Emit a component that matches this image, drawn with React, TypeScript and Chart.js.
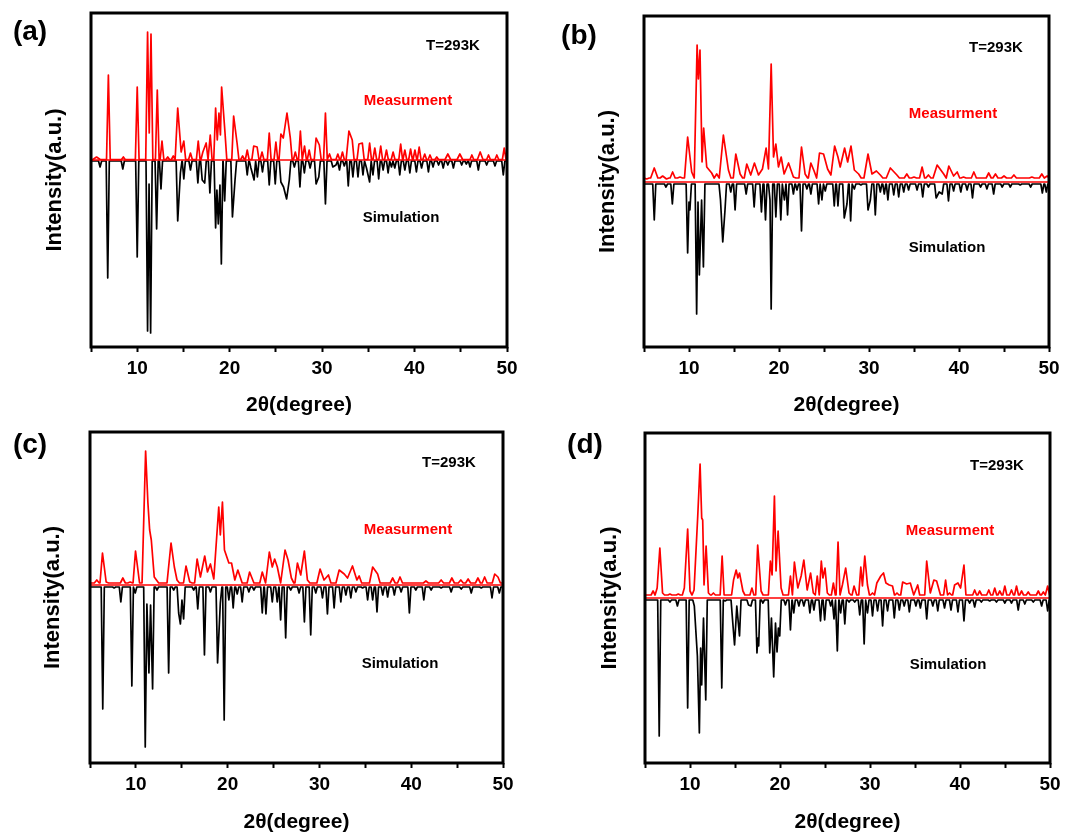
import { useEffect, useRef } from 'react';
import { Chart, registerables } from 'chart.js';
Chart.register(...registerables);

type P = [number, number] | [number, number, number];

const xTickLabels = [10, 20, 30, 40, 50];
const tempLabel = 'T=293K';
const measLabel = 'Measurment';
const simLabel = 'Simulation';
const xTitle = '2θ(degree)';
const yTitle = 'Intensity(a.u.)';
const panelLabels = ['(a)', '(b)', '(c)', '(d)'];

// peak tops / valleys: [2θ, intensity (a.u.), optional half-width]
const measA: P[] = [[5.6, 3, 0.4], [6.88, 85], [8.5, 3], [10.0, 73], [11.12, 128], [11.3, 27], [11.49, 126], [12.17, 70], [12.68, 19], [13.3, 3], [13.9, 4], [14.38, 52], [14.75, 8], [15.04, 19], [15.76, 7], [16.6, 19], [17.1, 8], [17.46, 17], [17.9, 25], [18.48, 52], [18.66, 20], [18.84, 47], [19.0, 25], [19.13, 73], [19.49, 28], [20.43, 44], [20.8, 17], [21.4, 4], [21.9, 10], [22.6, 14], [22.97, 13], [23.5, 8], [24.28, 27], [25.0, 18], [25.54, 26], [25.8, 22], [26.2, 47], [26.56, 22], [27.1, 8], [27.65, 29], [28.1, 14], [28.6, 10], [29.35, 22], [29.7, 15], [30.36, 47], [30.8, 6], [31.7, 6], [32.2, 8], [32.9, 29, 0.3], [33.26, 20], [33.98, 16], [34.35, 17], [35.14, 17], [35.7, 12], [36.34, 14], [36.96, 10], [37.68, 8], [38.5, 16], [38.95, 10], [39.57, 11], [40.04, 10], [40.5, 13], [41.1, 6], [41.67, 5], [42.4, 3], [43.6, 6, 0.3], [44.9, 6, 0.3], [46.2, 5], [47.1, 8, 0.3], [48.0, 5], [48.9, 5], [49.7, 12]];
const simA: P[] = [[5.98, 7], [6.81, 118], [8.44, 9], [10.0, 97], [11.12, 171], [11.28, 24], [11.45, 173], [12.1, 69], [12.57, 29], [14.38, 61], [14.67, 13], [15.04, 19], [15.76, 10], [16.56, 23], [17.03, 20], [17.3, 23], [17.86, 33], [18.48, 68], [18.62, 30], [18.77, 64], [18.95, 25], [19.1, 104], [19.46, 41], [20.3, 57], [20.58, 20], [21.9, 15], [22.3, 8], [22.64, 20], [23.0, 17], [23.55, 12], [24.28, 25], [24.93, 24], [25.54, 22], [25.83, 27], [26.16, 39], [26.45, 20], [27.0, 7], [27.6, 27], [28.08, 13], [28.7, 8], [29.35, 24], [29.64, 17], [30.36, 44], [31.16, 7], [31.5, 5], [31.88, 10], [32.4, 6], [32.83, 26], [33.33, 17], [33.88, 17], [34.42, 15], [34.8, 8], [35.14, 22], [35.5, 15], [36.12, 19], [36.6, 10], [37.14, 13], [37.5, 7], [37.86, 8], [38.4, 15], [38.95, 10], [39.49, 13], [40.2, 12], [40.76, 8], [41.5, 12], [42.0, 7], [42.6, 5], [43.1, 8], [43.6, 5], [44.2, 8], [45.1, 5], [45.6, 4], [46.0, 7], [46.9, 10], [47.8, 5], [48.7, 6], [49.6, 15]];

const measB: P[] = [[5.3, 3], [6.14, 14, 0.4], [7.07, 6], [7.5, 3], [8.18, 10], [9.0, 5], [9.85, 45, 0.35], [10.3, 10], [10.9, 137], [11.04, 103], [11.22, 132], [11.45, 20], [11.63, 54], [11.97, 15], [12.52, 9], [13.08, 8], [13.82, 47, 0.4], [14.38, 12], [15.2, 28], [15.68, 8], [16.42, 18], [16.86, 7], [17.27, 19], [17.72, 7], [18.16, 13], [18.57, 34], [18.83, 13], [19.13, 118], [19.39, 25], [19.65, 38], [19.94, 15], [20.24, 25], [20.57, 8], [21.06, 19], [21.6, 5], [22.5, 35], [22.9, 8], [23.54, 19], [23.9, 11], [24.5, 29], [24.95, 28], [25.4, 13], [25.77, 7], [26.18, 36], [26.55, 25], [26.8, 15], [27.29, 34], [27.63, 20], [28.0, 36], [28.37, 12], [28.85, 8], [29.89, 28, 0.45], [30.33, 8], [30.82, 11], [31.26, 7], [32.37, 14, 0.45], [33.1, 7], [34.2, 8], [35.0, 5], [35.9, 15], [36.6, 7], [37.57, 17, 0.45], [38.3, 8], [38.87, 16], [39.4, 6], [39.8, 10], [40.5, 5], [41.65, 10], [42.4, 4], [43.3, 9], [44.05, 8], [45.0, 6], [46.1, 7], [47.2, 4], [48.1, 5], [49.2, 8], [49.8, 6]];
const simB: P[] = [[6.14, 38], [7.44, 5], [8.15, 22], [9.85, 71], [10.0, 20], [10.1, 28], [10.85, 132], [11.0, 20], [11.15, 93], [11.4, 18], [11.6, 85], [13.5, 18], [13.75, 60], [14.0, 28], [14.64, 10], [15.12, 28], [16.35, 12], [17.24, 25], [18.05, 30], [18.5, 38], [19.0, 18], [19.13, 127], [19.65, 35], [20.2, 38], [20.6, 18], [20.95, 33], [21.6, 12], [22.0, 8], [22.5, 49], [23.1, 7], [23.54, 12], [24.4, 22], [24.77, 18], [25.14, 9], [26.14, 24], [26.55, 24], [27.25, 36], [27.55, 22], [27.96, 39], [28.37, 7], [29.1, 3], [29.89, 28], [30.15, 18], [30.7, 33], [31.26, 10], [31.7, 12], [32.1, 18], [32.75, 13], [33.3, 15], [33.86, 10], [34.4, 8], [35.34, 8], [35.97, 15], [36.6, 5], [37.46, 16], [37.8, 10], [38.13, 12], [38.83, 19], [39.4, 9], [40.2, 10], [40.9, 8], [41.5, 16], [42.4, 5], [43.1, 7], [43.85, 12], [44.8, 5], [45.7, 5], [46.8, 3], [47.96, 5], [49.26, 11], [49.7, 10]];

const measC: P[] = [[5.74, 5], [6.36, 32], [6.76, 3], [7.74, 2], [8.58, 7], [9.38, 3], [9.96, 34], [10.4, 2], [11.06, 134, 0.35], [11.31, 82], [11.5, 55], [11.68, 45], [12.0, 8], [12.48, 2], [13.39, 2], [13.83, 42], [14.19, 18], [14.48, 5], [15.46, 19], [15.87, 3], [16.67, 26], [17.03, 8], [17.5, 29], [17.8, 13], [18.12, 21], [18.49, 6], [19.03, 78, 0.35], [19.2, 50], [19.43, 83], [19.65, 35], [20.13, 22], [20.42, 22], [20.78, 5], [21.11, 15], [21.58, 2], [22.39, 13], [22.86, 2], [23.77, 13], [24.13, 2], [24.54, 33], [24.86, 18], [25.12, 26], [25.41, 18], [25.77, 2], [26.25, 35], [26.58, 25], [26.94, 7], [27.6, 22], [27.96, 10], [28.36, 34], [28.69, 5], [30.07, 16, 0.35], [30.5, 5], [30.98, 10], [32.15, 15, 0.35], [32.7, 11], [33.06, 7], [33.6, 19], [34.08, 5], [34.33, 9], [35.8, 18, 0.35], [36.34, 11], [37.98, 7], [38.78, 8], [41.6, 4], [43.26, 5], [44.43, 7], [45.4, 5], [46.2, 6], [47.27, 7], [48.0, 8], [49.1, 11], [49.45, 8]];
const simC: P[] = [[6.39, 124], [7.63, 3], [8.36, 17], [9.56, 101], [9.93, 8], [11.02, 162], [11.2, 19], [11.42, 88], [11.6, 20], [11.82, 104], [12.3, 5], [13.57, 88], [14.12, 5], [14.66, 28], [14.85, 39], [15.02, 15], [15.2, 34], [16.3, 5], [16.74, 24], [17.47, 70], [18.12, 7], [18.9, 78], [19.2, 18], [19.62, 135], [20.13, 15], [20.6, 23], [21.04, 9], [21.58, 17], [22.31, 7], [22.86, 5], [23.77, 28], [24.17, 29], [24.86, 17], [25.4, 17], [25.77, 35], [26.32, 53], [26.87, 5], [27.78, 8], [28.36, 37], [29.05, 50], [29.6, 8], [30.33, 13], [30.87, 29], [31.6, 23], [32.33, 17], [32.88, 10], [33.42, 13], [33.97, 7], [34.7, 3], [35.25, 15], [35.8, 15], [36.27, 27], [36.9, 10], [37.43, 12], [38.16, 10], [38.9, 7], [39.8, 28], [40.5, 5], [41.37, 15], [42.17, 5], [43.26, 3], [44.35, 7], [45.45, 4], [46.54, 8], [47.63, 3], [48.8, 13], [49.6, 8]];

const measD: P[] = [[5.9, 7], [6.35, 10], [6.65, 50], [6.95, 5], [7.77, 4], [8.7, 4], [9.37, 10], [9.74, 69], [10.0, 7], [10.45, 8], [10.86, 82], [11.12, 134], [11.3, 80], [11.41, 78], [11.56, 13], [11.79, 52], [12.05, 5], [12.6, 5], [13.57, 42], [14.84, 18], [15.13, 28], [15.32, 20], [15.5, 25], [15.88, 7], [16.88, 10], [17.52, 53], [17.9, 7], [18.93, 37], [19.12, 23], [19.38, 102], [19.56, 27], [19.79, 67], [20.12, 10], [21.16, 22], [21.6, 36], [21.98, 10], [22.35, 22], [22.65, 38], [23.02, 8], [23.4, 25], [23.7, 5], [24.14, 22], [24.59, 37], [24.77, 20], [25.0, 30], [25.26, 5], [25.93, 15], [26.45, 56], [26.93, 13], [27.3, 30], [27.67, 5], [28.23, 12], [28.53, 3], [28.98, 31], [29.16, 12], [29.42, 42], [29.72, 13], [30.28, 5], [30.76, 15], [31.2, 22], [31.5, 25], [31.77, 15], [32.14, 13], [32.5, 12], [33.0, 5], [33.63, 16], [34.07, 14], [34.48, 15], [34.86, 3], [35.3, 13], [35.75, 3], [36.3, 37], [36.7, 5], [37.1, 18], [37.4, 17], [37.83, 3], [38.4, 18], [38.84, 5], [39.4, 13], [39.77, 15], [40.07, 10], [40.44, 33], [41.07, 3], [41.63, 8], [42.19, 7], [42.74, 3], [43.2, 8], [43.86, 10], [44.42, 7], [44.98, 12], [45.72, 8], [46.28, 12], [46.84, 7], [47.58, 6], [48.14, 3], [48.7, 7], [49.26, 6], [49.74, 12]];
const simD: P[] = [[6.58, 138], [7.77, 4], [8.6, 8], [9.74, 110], [10.48, 8], [10.82, 58], [11.04, 135], [11.18, 50], [11.3, 87], [11.5, 20], [11.75, 102], [13.53, 90], [13.9, 3], [14.73, 22], [14.95, 47], [15.2, 8], [15.5, 38], [16.5, 7], [16.77, 8], [17.44, 55], [17.54, 40], [17.63, 48], [18.1, 5], [18.86, 55], [19.05, 20], [19.3, 79], [19.5, 25], [19.67, 54], [19.82, 30], [19.97, 38], [20.6, 7], [21.16, 32], [21.53, 15], [22.1, 8], [22.65, 8], [23.32, 15], [23.77, 12], [24.5, 23], [24.96, 22], [25.63, 8], [26.0, 21], [26.37, 53], [26.74, 15], [27.2, 26], [27.67, 4], [28.3, 4], [28.86, 17], [29.35, 46], [29.72, 15], [30.28, 18], [30.84, 13], [31.4, 28], [31.95, 13], [32.7, 20], [33.26, 12], [33.8, 8], [34.37, 14], [35.1, 8], [35.6, 10], [36.3, 21], [36.98, 8], [37.53, 13], [38.28, 10], [39.0, 12], [39.77, 14], [40.44, 23], [41.07, 5], [41.63, 9], [42.37, 4], [43.3, 3], [44.05, 4], [44.98, 5], [45.72, 5], [46.47, 12], [47.2, 6], [48.14, 4], [49.07, 8], [49.74, 13]];

const FONT = '"Liberation Sans", Arial, Helvetica, sans-serif';

// Builds the line table: each read peak/valley vertex, with baseline feet where peaks are isolated
function build(peaks: P[], hw: number, bg: number, sign: number) {
  const pts: { x: number; y: number }[] = [{ x: 5, y: sign * bg }];
  let gapBefore = true;
  for (let i = 0; i < peaks.length; i++) {
    const p = peaks[i];
    const x = p[0], h = p[1];
    const w = p[2] ?? hw;
    if (gapBefore && x - w > 5) pts.push({ x: x - w, y: sign * bg });
    pts.push({ x, y: sign * h });
    const nx = peaks[i + 1];
    const nextLeft = nx ? nx[0] - (nx[2] ?? hw) : 50;
    const gapAfter = x + w < nextLeft;
    if (gapAfter) pts.push({ x: x + w, y: sign * bg });
    gapBefore = gapAfter;
  }
  pts.push({ x: 50, y: sign * bg });
  return pts;
}

const panels = [
  { left: 0, top: 0, w: 535, h: 420, area: { l: 91, t: 13, r: 507, b: 347 }, yMin: -187, yMax: 147, meas: measA, sim: simA, mhw: 0.2, mbg: 0.5, shw: 0.17, sbg: 1, label: [30, 32], temp: [453, 46], measPos: [408, 101], simPos: [401, 218], yTitleX: 55, xTitleY: 405 },
  { left: 535, top: 0, w: 536, h: 420, area: { l: 644, t: 16, r: 1049, b: 347 }, yMin: -165, yMax: 166, meas: measB, sim: simB, mhw: 0.28, mbg: 4, shw: 0.17, sbg: 2, label: [579, 36], temp: [996, 48], measPos: [953, 114], simPos: [947, 248], yTitleX: 608, xTitleY: 405 },
  { left: 0, top: 420, w: 535, h: 415, area: { l: 90, t: 432, r: 503, b: 763 }, yMin: -178, yMax: 153, meas: measC, sim: simC, mhw: 0.27, mbg: 2, shw: 0.17, sbg: 2, label: [30, 445], temp: [449, 463], measPos: [408, 530], simPos: [400, 664], yTitleX: 53, xTitleY: 822 },
  { left: 535, top: 420, w: 536, h: 415, area: { l: 645, t: 433, r: 1050, b: 763 }, yMin: -165, yMax: 165, meas: measD, sim: simD, mhw: 0.22, mbg: 3, shw: 0.17, sbg: 2, label: [585, 445], temp: [997, 466], measPos: [950, 531], simPos: [948, 665], yTitleX: 610, xTitleY: 822 },
];

function Panel({ idx }: { idx: number }) {
  const ref = useRef<HTMLCanvasElement>(null);
  const c = panels[idx];
  useEffect(() => {
    const texts = [
      { t: panelLabels[idx], p: c.label, size: 28, color: '#000' },
      { t: tempLabel, p: c.temp, size: 15, color: '#000' },
      { t: measLabel, p: c.measPos, size: 15, color: '#ff0000' },
      { t: simLabel, p: c.simPos, size: 15, color: '#000' },
    ];
    const decor = {
      id: 'decor' + idx,
      afterDraw(chart: any) {
        const { ctx, chartArea } = chart;
        ctx.save();
        ctx.strokeStyle = '#000';
        ctx.lineWidth = 3;
        ctx.strokeRect(chartArea.left, chartArea.top, chartArea.right - chartArea.left, chartArea.bottom - chartArea.top);
        ctx.textAlign = 'center';
        ctx.textBaseline = 'middle';
        for (const tx of texts) {
          ctx.font = `bold ${tx.size}px ${FONT}`;
          ctx.fillStyle = tx.color;
          ctx.fillText(tx.t, tx.p[0] - c.left, tx.p[1] - c.top);
        }
        ctx.restore();
      },
    };
    const chart = new Chart(ref.current as HTMLCanvasElement, {
      type: 'line',
      data: {
        datasets: [
          { data: [{ x: 5, y: 0 }, { x: 50, y: 0 }], borderColor: '#ff0000', borderWidth: 1.6, pointRadius: 0 },
          { data: build(c.meas, c.mhw, c.mbg, 1), borderColor: '#ff0000', borderWidth: 1.7, pointRadius: 0 },
          { data: build(c.sim, c.shw, c.sbg, -1), borderColor: '#000000', borderWidth: 1.7, pointRadius: 0 },
        ],
      },
      options: {
        responsive: false,
        animation: false,
        devicePixelRatio: 1,
        layout: { padding: { left: 0, top: c.area.t - c.top, right: c.left + c.w - c.area.r, bottom: 0 } },
        elements: { line: { tension: 0, borderJoinStyle: 'round' } },
        plugins: { legend: { display: false }, tooltip: { enabled: false } },
        scales: {
          x: {
            type: 'linear',
            min: 5,
            max: 50,
            afterFit: (s: any) => { s.height = c.top + c.h - c.area.b; },
            ticks: {
              stepSize: 5,
              autoSkip: false,
              maxRotation: 0,
              padding: 5,
              color: '#000',
              font: { family: FONT, size: 19, weight: 'bold' },
              callback: (v: any) => (xTickLabels.includes(Number(v)) ? String(v) : ''),
            },
            grid: { display: true, drawOnChartArea: false, drawTicks: true, tickLength: 5, tickWidth: 2, tickColor: '#000' },
            border: { display: false },
            title: {
              display: true,
              text: xTitle,
              color: '#000',
              font: { family: FONT, size: 21, weight: 'bold' },
              padding: { top: 0, bottom: Math.max(0, c.top + c.h - c.xTitleY - 12.6) },
            },
          },
          y: {
            type: 'linear',
            min: c.yMin,
            max: c.yMax,
            afterFit: (s: any) => { s.width = c.area.l - c.left; },
            ticks: { display: false },
            grid: { display: false },
            border: { display: false },
            title: {
              display: true,
              text: yTitle,
              color: '#000',
              font: { family: FONT, size: 22, weight: 'bold' },
              padding: { top: c.yTitleX - c.left - 13.2, bottom: 0 },
            },
          },
        },
      },
      plugins: [decor],
    } as any);
    return () => chart.destroy();
  }, []);
  return (
    <canvas
      ref={ref}
      width={c.w}
      height={c.h}
      style={{ position: 'absolute', left: c.left, top: c.top, width: c.w, height: c.h }}
    />
  );
}

export default function App() {
  return (
    <div style={{ position: 'absolute', left: 0, top: 0, width: 1071, height: 835, background: '#fff', overflow: 'hidden' }}>
      {panels.map((_, i) => (
        <Panel key={i} idx={i} />
      ))}
    </div>
  );
}
